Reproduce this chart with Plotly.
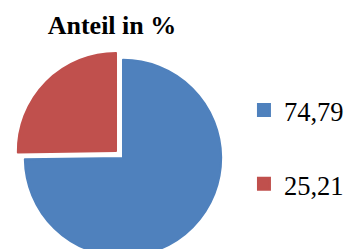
import plotly.graph_objects as go

labels = ["74,79", "25,21"]
values = [74.79, 25.21]
colors = ["#4F81BD", "#C0504D"]
pulls = [0, 0.1]
title_text = "Anteil in %"

fig = go.Figure(go.Pie(
    labels=["<span style='font-size:26.5px'>" + l + "</span><br> " for l in labels],
    values=values,
    sort=False,
    direction="clockwise",
    rotation=0,
    pull=pulls,
    textinfo="none",
    hoverinfo="skip",
    marker=dict(colors=colors, line=dict(width=2, color=colors)),
    domain=dict(x=[0, 1], y=[0, 1]),
))

fig.update_layout(
    width=345, height=270,
    margin=dict(l=15, r=114, t=50, b=4, autoexpand=False),
    paper_bgcolor="white", plot_bgcolor="white",
    title=dict(text="<b>" + title_text + "</b>", x=112/345, xanchor="center",
               y=1 - 25/270, yanchor="middle", xref="container", yref="container",
               font=dict(family="Liberation Serif", size=26, color="black")),
    legend=dict(x=1.06, xanchor="left", y=0.835, yanchor="top", valign="top",
                font=dict(family="Liberation Serif", size=27.3, color="black"),
                bgcolor="rgba(0,0,0,0)", borderwidth=0),
    showlegend=True,
)

fig.write_html("out.html", config={"displayModeBar": False},
               post_script="document.body.style.margin='0';document.body.style.overflow='hidden';")
